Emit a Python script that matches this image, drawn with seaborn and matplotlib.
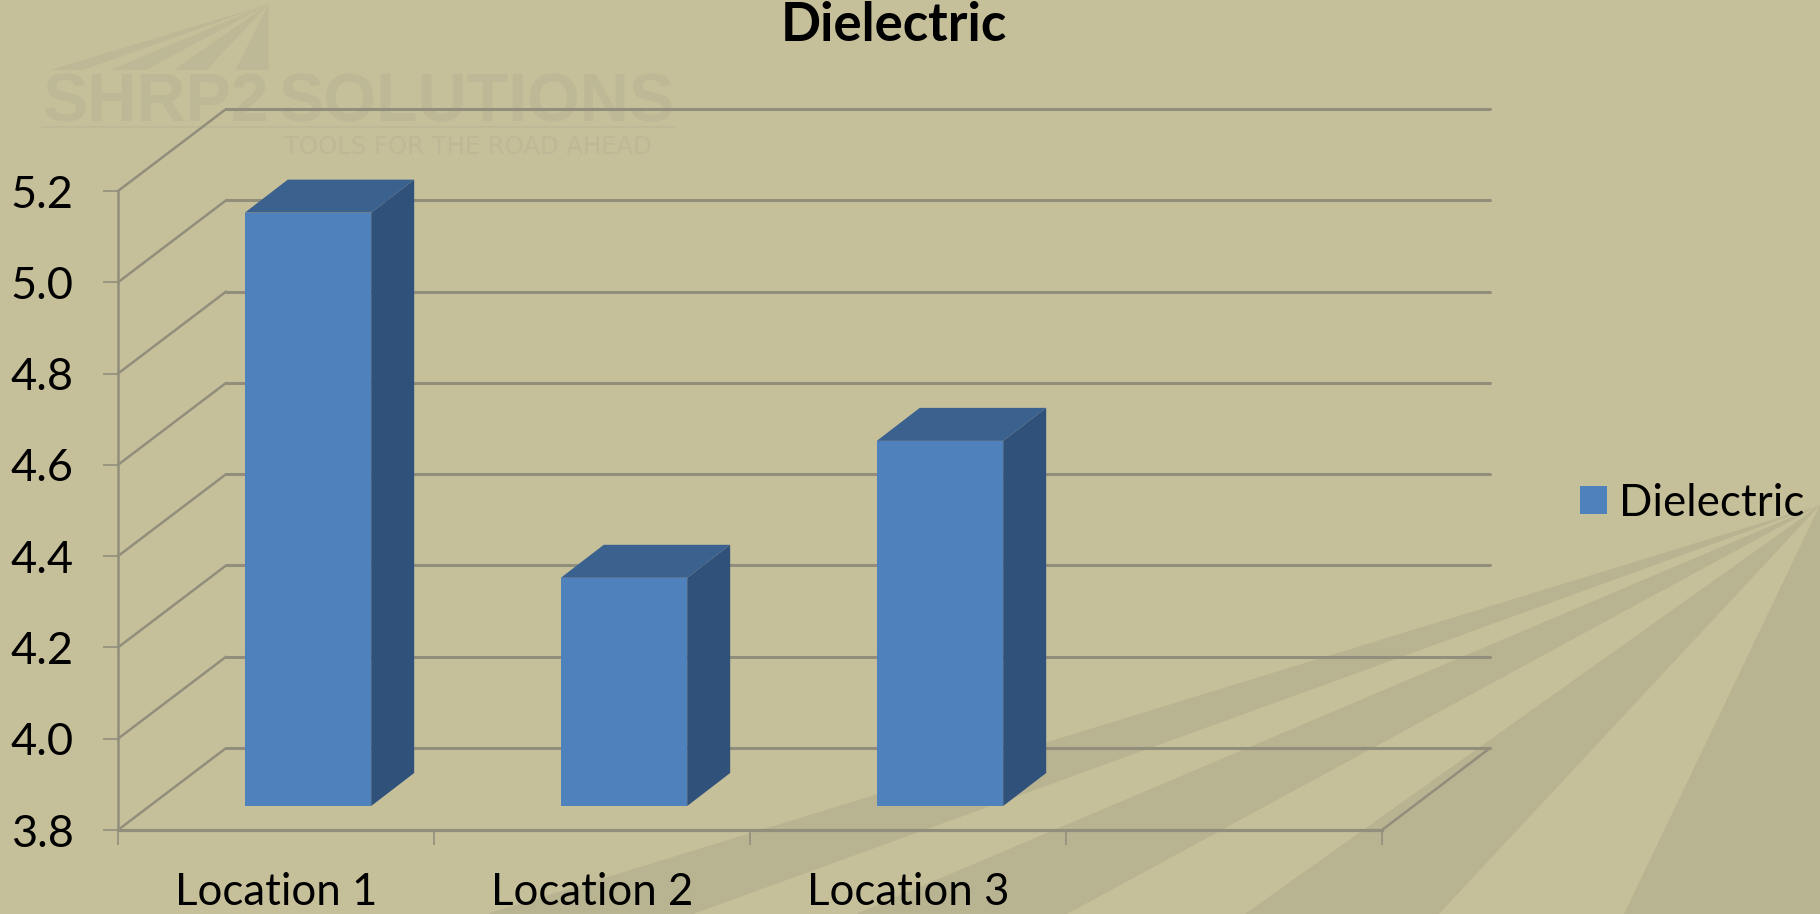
import matplotlib
matplotlib.use("Agg")
import matplotlib.pyplot as plt
import seaborn as sns

# ---- data ----
locations = ["Location 1", "Location 2", "Location 3"]
dielectric = [5.1, 4.3, 4.6]
series_name = "Dielectric"
y_ticks = [3.8, 4.0, 4.2, 4.4, 4.6, 4.8, 5.0, 5.2]
y_labels = ["3.8", "4.0", "4.2", "4.4", "4.6", "4.8", "5.0", "5.2"]
slot_edges = [-0.5, 0.5, 1.5, 2.5, 3.5]

# ---- style ----
W, H = 1820, 914
BG, RAY, LOGO = "#C6C09A", "#B8B390", "#BDB896"
LINE = "#918E7C"
FRONT, SIDE, TOP = "#4F81BD", "#30517A", "#3B618F"
DEPTH_X, DEPTH_Y = 0.342, 0.1796        # floor depth, in category / value units
BAR_DX, BAR_DY = 0.136, 0.0723          # bar depth
BAR_W = 0.4

sns.set_theme(style="white")
plt.rcParams["font.family"] = ["Lato", "DejaVu Sans"]
fig = plt.figure(figsize=(W / 100, H / 100), dpi=100, facecolor=BG)


def rect(x0, top, x1, bottom):
    return [x0 / W, 1 - bottom / H, (x1 - x0) / W, (bottom - top) / H]


# ---- backdrop: rays and watermark, in pixel coordinates ----
bg = fig.add_axes([0, 0, 1, 1], zorder=0)
bg.set_xlim(0, W)
bg.set_ylim(H, 0)
bg.axis("off")
apex = (1820, 505)
for xa, xb in [(487, 693), (856, 1067), (1245, 1439), (1624, 1820)]:
    bg.fill([apex[0], xa, xb], [apex[1], H, H], color=RAY, lw=0)
fan_apex = (268.6, 4)
for xa, xb in [(50, 83), (110, 146), (173.5, 206.6), (235.5, 268.6)]:
    bg.fill([fan_apex[0], xa, xb], [fan_apex[1], 70, 70], color=LOGO, lw=0)
bg.text(42, 121, "SHRP2", color=LOGO, fontsize=49, fontweight="bold",
        family="Liberation Sans", va="baseline", ha="left")
bg.text(278, 121, "SOLUTIONS", color=LOGO, fontsize=49, fontweight="bold",
        family="Liberation Sans", va="baseline", ha="left")
bg.plot([42, 675], [127, 127], color=LOGO, lw=1.2)
bg.text(284, 153.5, "TOOLS FOR THE ROAD AHEAD", color=LOGO, fontsize=17.5,
        family="DejaVu Sans", va="baseline", ha="left")

# ---- walls: front plane of the 3D box ----
ax = fig.add_axes(rect(118, 191, 1382, 830), zorder=1)
ax.patch.set_visible(False)
ax.set_xlim(slot_edges[0], slot_edges[-1])
ax.set_ylim(y_ticks[0], y_ticks[-1])
for s in ("top", "right"):
    ax.spines[s].set_visible(False)
ax.spines["left"].set_color(LINE)
ax.spines["left"].set_linewidth(1.8)
ax.spines["bottom"].set_color(LINE)
ax.spines["bottom"].set_linewidth(2.3)
ax.set_yticks(y_ticks, y_labels)
ax.set_xticks(range(len(locations)), locations)
ax.set_xticks(slot_edges, minor=True)
ax.tick_params(axis="y", length=11, width=1.2, color=LINE, pad=21,
               labelsize=32.5, labelcolor="black", left=True)
ax.tick_params(axis="x", which="major", length=0, pad=30,
               labelsize=31.5, labelcolor="black")
ax.tick_params(axis="x", which="minor", length=11, width=1.2, color=LINE, bottom=True)
for v in y_ticks:
    ax.plot([slot_edges[0], slot_edges[0] + DEPTH_X], [v, v + DEPTH_Y],
            color=LINE, lw=1.8, clip_on=False, solid_capstyle="round")
    ax.plot([slot_edges[0] + DEPTH_X, slot_edges[-1] + DEPTH_X], [v + DEPTH_Y, v + DEPTH_Y],
            color=LINE, lw=2.2, clip_on=False)
ax.plot([slot_edges[-1], slot_edges[-1] + DEPTH_X], [y_ticks[0], y_ticks[0] + DEPTH_Y],
        color=LINE, lw=1.8, clip_on=False)
ax.set_xlim(slot_edges[0], slot_edges[-1])
ax.set_ylim(y_ticks[0], y_ticks[-1])

# ---- bars: their front faces sit one step into the box ----
ax_bar = fig.add_axes(rect(118 + 32, 191 - 24, 1382 + 32, 830 - 24), zorder=2)
ax_bar.patch.set_visible(False)
sns.barplot(x=locations, y=dielectric, color=FRONT, saturation=1, width=BAR_W,
            label=series_name, ax=ax_bar, zorder=3, linewidth=0, edgecolor="none")
for i, v in enumerate(dielectric):
    xl, xr = i - BAR_W / 2, i + BAR_W / 2
    base = y_ticks[0]
    ax_bar.fill([xr, xr + BAR_DX, xr + BAR_DX, xr],
                [base, base + BAR_DY, v + BAR_DY, v],
                color=SIDE, lw=0, clip_on=False, zorder=2)
    ax_bar.fill([xl, xr, xr + BAR_DX, xl + BAR_DX],
                [v, v, v + BAR_DY, v + BAR_DY],
                color=TOP, lw=0, clip_on=False, zorder=2)
ax_bar.set_xlim(slot_edges[0], slot_edges[-1])
ax_bar.set_ylim(y_ticks[0], y_ticks[-1])
ax_bar.axis("off")

ax_bar.legend(loc="center left", bbox_to_anchor=(1580 / W, 1 - 503 / H),
              bbox_transform=fig.transFigure, frameon=False, fontsize=31.6,
              handlelength=0.61, handleheight=0.61, handletextpad=0.27,
              borderpad=0, borderaxespad=0, labelcolor="black")

fig.suptitle("Dielectric", x=894 / W, y=1 - 41 / H, va="baseline", ha="center",
             fontsize=38, fontweight="bold", color="black")

fig.savefig("out.png", dpi=100, facecolor=BG)
